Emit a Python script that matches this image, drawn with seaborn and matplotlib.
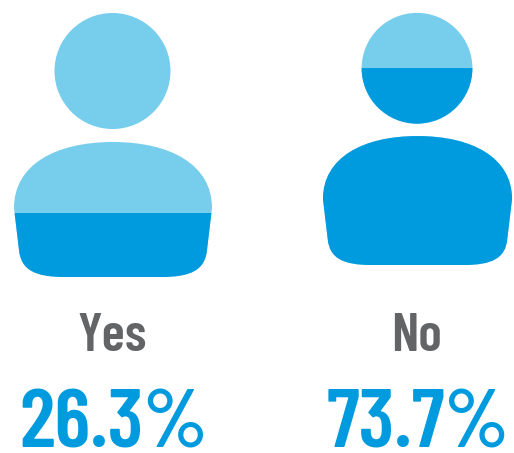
"""Pictogram: two person silhouettes filled to the share of answers."""
import matplotlib
matplotlib.use("Agg")
import matplotlib.pyplot as plt
import pandas as pd
import seaborn as sns
from matplotlib.path import Path
from matplotlib.transforms import Affine2D

W, H = 514, 453

labels = ["Yes", "No"]
values = [26.3, 73.7]
# fill level of each silhouette (share of its height)
fill_share = [0.24, 0.776]

LIGHT = "#76CEEC"
DARK = "#009ADE"
GREY = "#636466"
FONTS = ["Barlow Condensed", "Oswald", "Roboto Condensed", "Liberation Sans"]

# silhouette drawn once, in pixels of the left figure
SIL_CX, SIL_BOTTOM, SIL_TOP, SIL_W = 113, 277, 11, 198
# per person: centre x, bottom y, scale
placement = [(113, 277, 1.0), (417.5, 265, 0.955)]


def silhouette() -> Path:
    head = Path.circle((112.5, 71), 58)
    verts = [
        (113, 142),
        (55, 142), (14, 165), (14, 208),
        (19, 250),
        (21, 270), (35, 277), (65, 277),
        (161, 277),
        (191, 277), (205, 270), (207, 250),
        (212, 208),
        (212, 165), (171, 142), (113, 142),
        (113, 142),
    ]
    codes = [Path.MOVETO,
             Path.CURVE4, Path.CURVE4, Path.CURVE4,
             Path.LINETO,
             Path.CURVE4, Path.CURVE4, Path.CURVE4,
             Path.LINETO,
             Path.CURVE4, Path.CURVE4, Path.CURVE4,
             Path.LINETO,
             Path.CURVE4, Path.CURVE4, Path.CURVE4,
             Path.CLOSEPOLY]
    return Path.make_compound_path(head, Path(verts, codes))


sns.set_theme(style="white")
plt.rcParams["font.family"] = FONTS

fig = plt.figure(figsize=(W / 100, H / 100), dpi=100)
sil = silhouette()

for label, value, share, (cx, bottom, s) in zip(labels, values, fill_share, placement):
    w = SIL_W * s
    h = (SIL_BOTTOM - SIL_TOP) * s
    ax = fig.add_axes([(cx - w / 2) / W, (H - bottom) / H, w / W, h / H])
    df = pd.DataFrame({"label": [label], "full": [1.0], "share": [share]})
    sns.barplot(data=df, x="label", y="full", color=LIGHT, width=1, saturation=1,
                linewidth=0, ax=ax)
    sns.barplot(data=df, x="label", y="share", color=DARK, width=1, saturation=1,
                linewidth=0, ax=ax)
    ax.set_xlim(-0.5, 0.5)
    ax.set_ylim(0, 1)
    ax.axis("off")

    # pixels of the drawn silhouette -> display pixels of this person
    to_disp = Affine2D().translate(-SIL_CX, -SIL_BOTTOM).scale(s, -s).translate(cx, H - bottom)
    for bar in ax.patches:
        bar.set_clip_path(sil, to_disp)

    fig.text((cx - 1) / W, (H - 351) / H, label, ha="center", va="baseline",
             fontsize=39, fontweight="semibold", color=GREY)
    fig.text((cx + 1) / W, (H - 447) / H, f"{value:.1f}%", ha="center", va="baseline",
             fontsize=60, fontweight="semibold", color=DARK)

fig.savefig("out.png", dpi=100)
